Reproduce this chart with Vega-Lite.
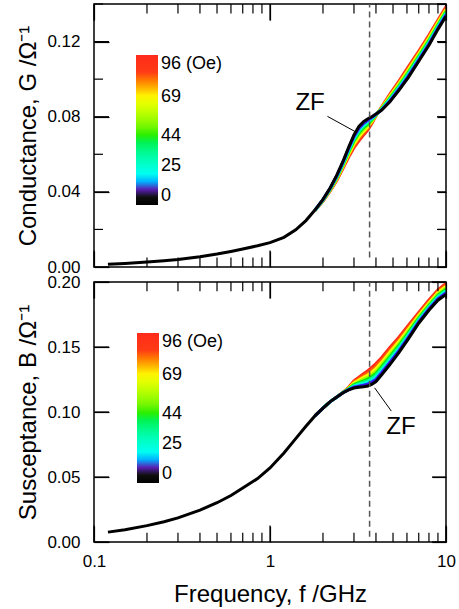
{
  "$schema": "https://vega.github.io/schema/vega-lite/v6.json",
  "padding": {"left": 16, "top": 2, "right": 0, "bottom": 0},
  "background": "white",
  "config": {
    "font": "Liberation Sans",
    "view": {"stroke": "#000", "strokeWidth": 1.5},
    "axis": {"ticks": true, "zindex": 1, "domain": false, "grid": false, "tickColor": "#000000", "tickWidth": 1.2, "labelColor": "#000", "titleColor": "#000", "labelFontSize": 17, "titleFontSize": 24, "titleFontWeight": "normal", "labelFlush": false, "labelOverlap": false, "labelFont": "Liberation Sans", "titleFont": "Liberation Sans"},
    "legend": {"labelFont": "Liberation Sans", "labelColor": "#000", "labelFontSize": 18, "padding": 0}
  },
  "datasets": {
    "curves": [
      {"H":96,"f":1.8,"G":0.0300,"B":0.0970},{"H":96,"f":2.0,"G":0.0350,"B":0.1030},{"H":96,"f":2.2,"G":0.0405,"B":0.1080},{"H":96,"f":2.4,"G":0.0462,"B":0.1117},{"H":96,"f":2.6,"G":0.0525,"B":0.1152},{"H":96,"f":2.8,"G":0.0585,"B":0.1190},{"H":96,"f":3.0,"G":0.0635,"B":0.1240},{"H":96,"f":3.2,"G":0.0672,"B":0.1268},{"H":96,"f":3.4,"G":0.0702,"B":0.1295},{"H":96,"f":3.6,"G":0.0730,"B":0.1318},{"H":96,"f":3.8,"G":0.0765,"B":0.1345},{"H":96,"f":4.0,"G":0.0805,"B":0.1372},{"H":96,"f":4.3,"G":0.0852,"B":0.1418},{"H":96,"f":4.8,"G":0.0920,"B":0.1497},{"H":96,"f":5.4,"G":0.0990,"B":0.1575},{"H":96,"f":6.1,"G":0.1065,"B":0.1666},{"H":96,"f":7.0,"G":0.1150,"B":0.1765},{"H":96,"f":8.0,"G":0.1235,"B":0.1861},{"H":96,"f":9.0,"G":0.1315,"B":0.1940},{"H":96,"f":10,"G":0.1385,"B":0.1990},
      {"H":82,"f":1.8,"G":0.0300,"B":0.0970},{"H":82,"f":2.0,"G":0.0352,"B":0.1030},{"H":82,"f":2.2,"G":0.0408,"B":0.1080},{"H":82,"f":2.4,"G":0.0466,"B":0.1117},{"H":82,"f":2.6,"G":0.0531,"B":0.1151},{"H":82,"f":2.8,"G":0.0593,"B":0.1187},{"H":82,"f":3.0,"G":0.0645,"B":0.1232},{"H":82,"f":3.2,"G":0.0683,"B":0.1256},{"H":82,"f":3.4,"G":0.0713,"B":0.1280},{"H":82,"f":3.6,"G":0.0739,"B":0.1300},{"H":82,"f":3.8,"G":0.0770,"B":0.1325},{"H":82,"f":4.0,"G":0.0806,"B":0.1351},{"H":82,"f":4.3,"G":0.0849,"B":0.1398},{"H":82,"f":4.8,"G":0.0914,"B":0.1477},{"H":82,"f":5.4,"G":0.0983,"B":0.1557},{"H":82,"f":6.1,"G":0.1056,"B":0.1650},{"H":82,"f":7.0,"G":0.1142,"B":0.1753},{"H":82,"f":8.0,"G":0.1227,"B":0.1849},{"H":82,"f":9.0,"G":0.1308,"B":0.1928},{"H":82,"f":10,"G":0.1378,"B":0.1977},
      {"H":69,"f":1.8,"G":0.0301,"B":0.0970},{"H":69,"f":2.0,"G":0.0353,"B":0.1030},{"H":69,"f":2.2,"G":0.0410,"B":0.1080},{"H":69,"f":2.4,"G":0.0470,"B":0.1116},{"H":69,"f":2.6,"G":0.0536,"B":0.1151},{"H":69,"f":2.8,"G":0.0600,"B":0.1184},{"H":69,"f":3.0,"G":0.0654,"B":0.1224},{"H":69,"f":3.2,"G":0.0693,"B":0.1246},{"H":69,"f":3.4,"G":0.0722,"B":0.1267},{"H":69,"f":3.6,"G":0.0747,"B":0.1285},{"H":69,"f":3.8,"G":0.0775,"B":0.1308},{"H":69,"f":4.0,"G":0.0808,"B":0.1333},{"H":69,"f":4.3,"G":0.0847,"B":0.1380},{"H":69,"f":4.8,"G":0.0909,"B":0.1460},{"H":69,"f":5.4,"G":0.0976,"B":0.1542},{"H":69,"f":6.1,"G":0.1049,"B":0.1636},{"H":69,"f":7.0,"G":0.1135,"B":0.1742},{"H":69,"f":8.0,"G":0.1220,"B":0.1839},{"H":69,"f":9.0,"G":0.1301,"B":0.1918},{"H":69,"f":10,"G":0.1371,"B":0.1966},
      {"H":56,"f":1.8,"G":0.0301,"B":0.0970},{"H":56,"f":2.0,"G":0.0354,"B":0.1030},{"H":56,"f":2.2,"G":0.0412,"B":0.1080},{"H":56,"f":2.4,"G":0.0474,"B":0.1116},{"H":56,"f":2.6,"G":0.0541,"B":0.1150},{"H":56,"f":2.8,"G":0.0607,"B":0.1182},{"H":56,"f":3.0,"G":0.0664,"B":0.1216},{"H":56,"f":3.2,"G":0.0704,"B":0.1235},{"H":56,"f":3.4,"G":0.0732,"B":0.1253},{"H":56,"f":3.6,"G":0.0755,"B":0.1268},{"H":56,"f":3.8,"G":0.0780,"B":0.1290},{"H":56,"f":4.0,"G":0.0809,"B":0.1314},{"H":56,"f":4.3,"G":0.0844,"B":0.1362},{"H":56,"f":4.8,"G":0.0903,"B":0.1442},{"H":56,"f":5.4,"G":0.0969,"B":0.1525},{"H":56,"f":6.1,"G":0.1041,"B":0.1621},{"H":56,"f":7.0,"G":0.1127,"B":0.1731},{"H":56,"f":8.0,"G":0.1212,"B":0.1828},{"H":56,"f":9.0,"G":0.1294,"B":0.1906},{"H":56,"f":10,"G":0.1364,"B":0.1954},
      {"H":44,"f":1.8,"G":0.0302,"B":0.0970},{"H":44,"f":2.0,"G":0.0355,"B":0.1030},{"H":44,"f":2.2,"G":0.0414,"B":0.1080},{"H":44,"f":2.4,"G":0.0477,"B":0.1116},{"H":44,"f":2.6,"G":0.0546,"B":0.1150},{"H":44,"f":2.8,"G":0.0614,"B":0.1179},{"H":44,"f":3.0,"G":0.0672,"B":0.1210},{"H":44,"f":3.2,"G":0.0713,"B":0.1226},{"H":44,"f":3.4,"G":0.0741,"B":0.1240},{"H":44,"f":3.6,"G":0.0762,"B":0.1254},{"H":44,"f":3.8,"G":0.0784,"B":0.1274},{"H":44,"f":4.0,"G":0.0810,"B":0.1297},{"H":44,"f":4.3,"G":0.0842,"B":0.1346},{"H":44,"f":4.8,"G":0.0898,"B":0.1426},{"H":44,"f":5.4,"G":0.0963,"B":0.1511},{"H":44,"f":6.1,"G":0.1034,"B":0.1609},{"H":44,"f":7.0,"G":0.1120,"B":0.1721},{"H":44,"f":8.0,"G":0.1205,"B":0.1819},{"H":44,"f":9.0,"G":0.1288,"B":0.1897},{"H":44,"f":10,"G":0.1358,"B":0.1944},
      {"H":35,"f":1.8,"G":0.0302,"B":0.0970},{"H":35,"f":2.0,"G":0.0356,"B":0.1030},{"H":35,"f":2.2,"G":0.0416,"B":0.1080},{"H":35,"f":2.4,"G":0.0480,"B":0.1115},{"H":35,"f":2.6,"G":0.0549,"B":0.1149},{"H":35,"f":2.8,"G":0.0619,"B":0.1177},{"H":35,"f":3.0,"G":0.0679,"B":0.1204},{"H":35,"f":3.2,"G":0.0721,"B":0.1218},{"H":35,"f":3.4,"G":0.0748,"B":0.1230},{"H":35,"f":3.6,"G":0.0768,"B":0.1242},{"H":35,"f":3.8,"G":0.0788,"B":0.1261},{"H":35,"f":4.0,"G":0.0811,"B":0.1284},{"H":35,"f":4.3,"G":0.0840,"B":0.1332},{"H":35,"f":4.8,"G":0.0894,"B":0.1413},{"H":35,"f":5.4,"G":0.0958,"B":0.1499},{"H":35,"f":6.1,"G":0.1029,"B":0.1598},{"H":35,"f":7.0,"G":0.1115,"B":0.1713},{"H":35,"f":8.0,"G":0.1200,"B":0.1811},{"H":35,"f":9.0,"G":0.1283,"B":0.1889},{"H":35,"f":10,"G":0.1353,"B":0.1936},
      {"H":25,"f":1.8,"G":0.0302,"B":0.0970},{"H":25,"f":2.0,"G":0.0357,"B":0.1030},{"H":25,"f":2.2,"G":0.0418,"B":0.1080},{"H":25,"f":2.4,"G":0.0483,"B":0.1115},{"H":25,"f":2.6,"G":0.0553,"B":0.1149},{"H":25,"f":2.8,"G":0.0624,"B":0.1175},{"H":25,"f":3.0,"G":0.0685,"B":0.1199},{"H":25,"f":3.2,"G":0.0728,"B":0.1210},{"H":25,"f":3.4,"G":0.0755,"B":0.1220},{"H":25,"f":3.6,"G":0.0774,"B":0.1231},{"H":25,"f":3.8,"G":0.0792,"B":0.1248},{"H":25,"f":4.0,"G":0.0812,"B":0.1270},{"H":25,"f":4.3,"G":0.0839,"B":0.1319},{"H":25,"f":4.8,"G":0.0890,"B":0.1399},{"H":25,"f":5.4,"G":0.0953,"B":0.1487},{"H":25,"f":6.1,"G":0.1023,"B":0.1588},{"H":25,"f":7.0,"G":0.1109,"B":0.1704},{"H":25,"f":8.0,"G":0.1194,"B":0.1803},{"H":25,"f":9.0,"G":0.1278,"B":0.1881},{"H":25,"f":10,"G":0.1348,"B":0.1927},
      {"H":16,"f":1.8,"G":0.0302,"B":0.0970},{"H":16,"f":2.0,"G":0.0358,"B":0.1030},{"H":16,"f":2.2,"G":0.0419,"B":0.1080},{"H":16,"f":2.4,"G":0.0485,"B":0.1115},{"H":16,"f":2.6,"G":0.0557,"B":0.1149},{"H":16,"f":2.8,"G":0.0629,"B":0.1173},{"H":16,"f":3.0,"G":0.0691,"B":0.1194},{"H":16,"f":3.2,"G":0.0735,"B":0.1203},{"H":16,"f":3.4,"G":0.0762,"B":0.1211},{"H":16,"f":3.6,"G":0.0779,"B":0.1220},{"H":16,"f":3.8,"G":0.0795,"B":0.1236},{"H":16,"f":4.0,"G":0.0812,"B":0.1257},{"H":16,"f":4.3,"G":0.0837,"B":0.1307},{"H":16,"f":4.8,"G":0.0886,"B":0.1387},{"H":16,"f":5.4,"G":0.0949,"B":0.1476},{"H":16,"f":6.1,"G":0.1018,"B":0.1578},{"H":16,"f":7.0,"G":0.1104,"B":0.1697},{"H":16,"f":8.0,"G":0.1189,"B":0.1796},{"H":16,"f":9.0,"G":0.1274,"B":0.1874},{"H":16,"f":10,"G":0.1344,"B":0.1919},
      {"H":11,"f":1.8,"G":0.0303,"B":0.0970},{"H":11,"f":2.0,"G":0.0359,"B":0.1030},{"H":11,"f":2.2,"G":0.0420,"B":0.1080},{"H":11,"f":2.4,"G":0.0487,"B":0.1115},{"H":11,"f":2.6,"G":0.0558,"B":0.1148},{"H":11,"f":2.8,"G":0.0632,"B":0.1172},{"H":11,"f":3.0,"G":0.0695,"B":0.1191},{"H":11,"f":3.2,"G":0.0739,"B":0.1199},{"H":11,"f":3.4,"G":0.0765,"B":0.1206},{"H":11,"f":3.6,"G":0.0782,"B":0.1214},{"H":11,"f":3.8,"G":0.0797,"B":0.1230},{"H":11,"f":4.0,"G":0.0813,"B":0.1251},{"H":11,"f":4.3,"G":0.0836,"B":0.1300},{"H":11,"f":4.8,"G":0.0884,"B":0.1381},{"H":11,"f":5.4,"G":0.0946,"B":0.1470},{"H":11,"f":6.1,"G":0.1015,"B":0.1573},{"H":11,"f":7.0,"G":0.1102,"B":0.1693},{"H":11,"f":8.0,"G":0.1187,"B":0.1792},{"H":11,"f":9.0,"G":0.1271,"B":0.1870},{"H":11,"f":10,"G":0.1341,"B":0.1915},
      {"H":0,"f":0.12,"G":0.0015,"B":0.0076},{"H":0,"f":0.15,"G":0.0019,"B":0.0095},{"H":0,"f":0.2,"G":0.0026,"B":0.0126},{"H":0,"f":0.25,"G":0.0033,"B":0.0156},{"H":0,"f":0.3,"G":0.0040,"B":0.0186},{"H":0,"f":0.4,"G":0.0055,"B":0.0245},{"H":0,"f":0.5,"G":0.0069,"B":0.0302},{"H":0,"f":0.6,"G":0.0083,"B":0.0358},{"H":0,"f":0.7,"G":0.0096,"B":0.0415},{"H":0,"f":0.85,"G":0.0113,"B":0.0488},{"H":0,"f":1.0,"G":0.0130,"B":0.0570},{"H":0,"f":1.2,"G":0.0158,"B":0.0685},{"H":0,"f":1.4,"G":0.0198,"B":0.0795},{"H":0,"f":1.6,"G":0.0247,"B":0.0890},
      {"H":0,"f":1.8,"G":0.0303,"B":0.0970},{"H":0,"f":2.0,"G":0.0360,"B":0.1030},{"H":0,"f":2.2,"G":0.0422,"B":0.1080},{"H":0,"f":2.4,"G":0.0490,"B":0.1115},{"H":0,"f":2.6,"G":0.0563,"B":0.1148},{"H":0,"f":2.8,"G":0.0638,"B":0.1170},{"H":0,"f":3.0,"G":0.0703,"B":0.1184},{"H":0,"f":3.2,"G":0.0748,"B":0.1190},{"H":0,"f":3.4,"G":0.0774,"B":0.1194},{"H":0,"f":3.6,"G":0.0789,"B":0.1200},{"H":0,"f":3.8,"G":0.0801,"B":0.1214},{"H":0,"f":4.0,"G":0.0814,"B":0.1234},{"H":0,"f":4.3,"G":0.0834,"B":0.1284},{"H":0,"f":4.8,"G":0.0879,"B":0.1365},{"H":0,"f":5.4,"G":0.0940,"B":0.1456},{"H":0,"f":6.1,"G":0.1008,"B":0.1560},{"H":0,"f":7.0,"G":0.1095,"B":0.1683},{"H":0,"f":8.0,"G":0.1180,"B":0.1783},{"H":0,"f":9.0,"G":0.1265,"B":0.1860},{"H":0,"f":10,"G":0.1335,"B":0.1905}
    ],
    "dash": [{"f": 3.68, "loG": 0.005, "hiG": 0.14, "loB": 0.004, "hiB": 0.2}],
    "zfTopLine": [{"f1": 2.12, "G1": 0.0802, "f2": 3.03, "G2": 0.0722}],
    "zfTopText": [{"f": 1.69, "G": 0.0875, "label": "ZF"}],
    "zfBotLine": [{"f1": 3.93, "B1": 0.1186, "f2": 4.89, "B2": 0.1007}],
    "zfBotText": [{"f": 5.55, "B": 0.0882, "label": "ZF"}],
    "gx": [
      {"f":0.1,"b0":0,"b1":0.0088,"t0":0.14,"t1":0.1312},{"f":1,"b0":0,"b1":0.0088,"t0":0.14,"t1":0.1312},{"f":10,"b0":0,"b1":0.0088,"t0":0.14,"t1":0.1312},
      {"f":0.2,"b0":0,"b1":0.005,"t0":0.14,"t1":0.135},{"f":0.3,"b0":0,"b1":0.005,"t0":0.14,"t1":0.135},{"f":0.4,"b0":0,"b1":0.005,"t0":0.14,"t1":0.135},{"f":0.5,"b0":0,"b1":0.005,"t0":0.14,"t1":0.135},{"f":0.6,"b0":0,"b1":0.005,"t0":0.14,"t1":0.135},{"f":0.7,"b0":0,"b1":0.005,"t0":0.14,"t1":0.135},{"f":0.8,"b0":0,"b1":0.005,"t0":0.14,"t1":0.135},{"f":0.9,"b0":0,"b1":0.005,"t0":0.14,"t1":0.135},
      {"f":2,"b0":0,"b1":0.005,"t0":0.14,"t1":0.135},{"f":3,"b0":0,"b1":0.005,"t0":0.14,"t1":0.135},{"f":4,"b0":0,"b1":0.005,"t0":0.14,"t1":0.135},{"f":5,"b0":0,"b1":0.005,"t0":0.14,"t1":0.135},{"f":6,"b0":0,"b1":0.005,"t0":0.14,"t1":0.135},{"f":7,"b0":0,"b1":0.005,"t0":0.14,"t1":0.135},{"f":8,"b0":0,"b1":0.005,"t0":0.14,"t1":0.135},{"f":9,"b0":0,"b1":0.005,"t0":0.14,"t1":0.135}
    ],
    "bx": [
      {"f":0.1,"b0":0,"b1":0.0127,"t0":0.2,"t1":0.1873},{"f":1,"b0":0,"b1":0.0127,"t0":0.2,"t1":0.1873},{"f":10,"b0":0,"b1":0.0127,"t0":0.2,"t1":0.1873},
      {"f":0.2,"b0":0,"b1":0.0072,"t0":0.2,"t1":0.1928},{"f":0.3,"b0":0,"b1":0.0072,"t0":0.2,"t1":0.1928},{"f":0.4,"b0":0,"b1":0.0072,"t0":0.2,"t1":0.1928},{"f":0.5,"b0":0,"b1":0.0072,"t0":0.2,"t1":0.1928},{"f":0.6,"b0":0,"b1":0.0072,"t0":0.2,"t1":0.1928},{"f":0.7,"b0":0,"b1":0.0072,"t0":0.2,"t1":0.1928},{"f":0.8,"b0":0,"b1":0.0072,"t0":0.2,"t1":0.1928},{"f":0.9,"b0":0,"b1":0.0072,"t0":0.2,"t1":0.1928},
      {"f":2,"b0":0,"b1":0.0072,"t0":0.2,"t1":0.1928},{"f":3,"b0":0,"b1":0.0072,"t0":0.2,"t1":0.1928},{"f":4,"b0":0,"b1":0.0072,"t0":0.2,"t1":0.1928},{"f":5,"b0":0,"b1":0.0072,"t0":0.2,"t1":0.1928},{"f":6,"b0":0,"b1":0.0072,"t0":0.2,"t1":0.1928},{"f":7,"b0":0,"b1":0.0072,"t0":0.2,"t1":0.1928},{"f":8,"b0":0,"b1":0.0072,"t0":0.2,"t1":0.1928},{"f":9,"b0":0,"b1":0.0072,"t0":0.2,"t1":0.1928}
    ],
    "gy": [
      {"v":0,"l0":0.1,"l1":0.1217,"r0":10,"r1":8.89},{"v":0.04,"l0":0.1,"l1":0.1217,"r0":10,"r1":8.89},{"v":0.08,"l0":0.1,"l1":0.1217,"r0":10,"r1":8.89},{"v":0.12,"l0":0.1,"l1":0.1217,"r0":10,"r1":8.89},
      {"v":0.02,"l0":0.1,"l1":0.1125,"r0":10,"r1":8.89},{"v":0.06,"l0":0.1,"l1":0.1125,"r0":10,"r1":8.89},{"v":0.1,"l0":0.1,"l1":0.1125,"r0":10,"r1":8.89},{"v":0.14,"l0":0.1,"l1":0.1125,"r0":10,"r1":8.89}
    ],
    "by": [
      {"v":0,"l0":0.1,"l1":0.1217,"r0":10,"r1":8.325},{"v":0.05,"l0":0.1,"l1":0.1217,"r0":10,"r1":8.325},{"v":0.1,"l0":0.1,"l1":0.1217,"r0":10,"r1":8.325},{"v":0.15,"l0":0.1,"l1":0.1217,"r0":10,"r1":8.325},{"v":0.2,"l0":0.1,"l1":0.1217,"r0":10,"r1":8.325}
    ]
  },
  "spacing": -4,
  "resolve": {"scale": {"color": "independent"}},
  "vconcat": [
    {
      "width": 352, "height": 263,
      "resolve": {"axis": {"x": "independent", "y": "independent"}},
      "layer": [
        {
          "data": {"name": "curves"},
          "mark": {"type": "line", "strokeWidth": 3, "clip": true},
          "encoding": {
            "x": {"field": "f", "type": "quantitative", "scale": {"type": "log", "domain": [0.1, 10], "nice": false},
                  "axis": {"orient": "bottom", "values": [0.1, 1, 10], "labels": false, "title": null, "offset": -16, "tickSize": 16}},
            "y": {"field": "G", "type": "quantitative", "scale": {"domain": [0, 0.14], "nice": false},
                  "axis": {"orient": "left", "values": [0, 0.04, 0.08, 0.12], "format": ".2f", "title": "Conductance, G /Ω⁻¹", "titlePadding": 6,
                           "offset": -15, "tickSize": 15, "labelPadding": 14}},
            "color": {"field": "H", "type": "quantitative",
                      "scale": {"type": "linear", "domain": [0, 7.5, 9.2, 11.3, 14, 17.5, 25, 44, 58, 69, 77, 84, 96], "range": ["#000000","#141414","#5a2a8a","#1414ff","#0090ff","#00ffff","#00ffd0","#00ee00","#b4ff00","#ffff00","#ff9a00","#ff3c14","#ff2a1a"]},
                      "legend": {"orient": "none", "legendX": 42, "legendY": 51, "direction": "vertical", "gradientLength": 150, "gradientThickness": 22, "title": null, "values": [0,25,44,69,96], "labelExpr": "datum.value == 96 ? '96 (Oe)' : datum.label", "labelOffset": 3, "gradientStrokeWidth": 0, "labelOverlap": false}}
          }
        },
        {
          "data": {"name": "dash"},
          "mark": {"type": "rule", "stroke": "#555", "strokeWidth": 1.5, "strokeDash": [6, 4]},
          "encoding": {
            "x": {"field": "f", "type": "quantitative",
                  "axis": {"orient": "top", "values": [0.1, 1, 10], "labels": false, "title": null, "offset": -16, "tickSize": 16}},
            "y": {"field": "loG", "type": "quantitative",
                  "axis": {"orient": "right", "values": [0,0.02,0.04,0.06,0.08,0.1,0.12,0.14], "labels": false, "title": null, "offset": -9, "tickSize": 9}},
            "y2": {"field": "hiG"}
          }
        },
        {
          "data": {"name": "zfTopLine"},
          "mark": {"type": "rule", "stroke": "#000", "strokeWidth": 1},
          "encoding": {
            "x": {"field": "f1", "type": "quantitative", "axis": null},
            "x2": {"field": "f2"},
            "y": {"field": "G1", "type": "quantitative", "axis": null},
            "y2": {"field": "G2"}
          }
        },
        {
          "data": {"name": "zfTopText"},
          "mark": {"type": "text", "fontSize": 24, "color": "#000", "align": "center", "baseline": "middle"},
          "encoding": {
            "x": {"field": "f", "type": "quantitative", "axis": null},
            "y": {"field": "G", "type": "quantitative", "axis": null},
            "text": {"field": "label"}
          }
        },
        {
          "data": {"name": "gx"},
          "mark": {"type": "rule", "stroke": "#000", "strokeWidth": 1.2},
          "encoding": {
            "x": {"field": "f", "type": "quantitative", "axis": null},
            "y": {"field": "b0", "type": "quantitative", "axis": null},
            "y2": {"field": "b1"}
          }
        },
        {
          "data": {"name": "gx"},
          "mark": {"type": "rule", "stroke": "#000", "strokeWidth": 1.2},
          "encoding": {
            "x": {"field": "f", "type": "quantitative", "axis": null},
            "y": {"field": "t0", "type": "quantitative", "axis": null},
            "y2": {"field": "t1"}
          }
        },
        {
          "data": {"name": "gy"},
          "mark": {"type": "rule", "stroke": "#000", "strokeWidth": 1.2},
          "encoding": {
            "x": {"field": "l0", "type": "quantitative", "axis": null},
            "x2": {"field": "l1"},
            "y": {"field": "v", "type": "quantitative", "axis": null}
          }
        },
        {
          "data": {"name": "gy"},
          "mark": {"type": "rule", "stroke": "#000", "strokeWidth": 1.2},
          "encoding": {
            "x": {"field": "r0", "type": "quantitative", "axis": null},
            "x2": {"field": "r1"},
            "y": {"field": "v", "type": "quantitative", "axis": null}
          }
        }
      ]
    },
    {
      "width": 352, "height": 260,
      "resolve": {"axis": {"x": "independent", "y": "independent"}},
      "layer": [
        {
          "data": {"name": "curves"},
          "mark": {"type": "line", "strokeWidth": 3, "clip": true},
          "encoding": {
            "x": {"field": "f", "type": "quantitative", "scale": {"type": "log", "domain": [0.1, 10], "nice": false},
                  "axis": {"orient": "bottom", "values": [0.1, 1, 10], "title": "Frequency, f /GHz", "titlePadding": 13,
                           "offset": -16, "tickSize": 16, "labelPadding": 11,
                           "labelExpr": "datum.value == 0.1 ? '0.1' : datum.value == 1 ? '1' : datum.value == 10 ? '10' : ''"}},
            "y": {"field": "B", "type": "quantitative", "scale": {"domain": [0, 0.2], "nice": false},
                  "axis": {"orient": "left", "values": [0, 0.05, 0.1, 0.15, 0.2], "format": ".2f", "title": "Susceptance, B /Ω⁻¹", "titlePadding": 6,
                           "offset": -15, "tickSize": 15, "labelPadding": 14}},
            "color": {"field": "H", "type": "quantitative",
                      "scale": {"type": "linear", "domain": [0, 7.5, 9.2, 11.3, 14, 17.5, 25, 44, 58, 69, 77, 84, 96], "range": ["#000000","#141414","#5a2a8a","#1414ff","#0090ff","#00ffff","#00ffd0","#00ee00","#b4ff00","#ffff00","#ff9a00","#ff3c14","#ff2a1a"]},
                      "legend": {"orient": "none", "legendX": 43, "legendY": 51, "direction": "vertical", "gradientLength": 150, "gradientThickness": 22, "title": null, "values": [0,25,44,69,96], "labelExpr": "datum.value == 96 ? '96 (Oe)' : datum.label", "labelOffset": 3, "gradientStrokeWidth": 0, "labelOverlap": false}}
          }
        },
        {
          "data": {"name": "dash"},
          "mark": {"type": "rule", "stroke": "#555", "strokeWidth": 1.5, "strokeDash": [6, 4]},
          "encoding": {
            "x": {"field": "f", "type": "quantitative",
                  "axis": {"orient": "top", "values": [0.1, 1, 10], "labels": false, "title": null, "offset": -16, "tickSize": 16}},
            "y": {"field": "loB", "type": "quantitative",
                  "axis": {"orient": "right", "values": [0, 0.05, 0.1, 0.15, 0.2], "labels": false, "title": null, "offset": -14, "tickSize": 14}},
            "y2": {"field": "hiB"}
          }
        },
        {
          "data": {"name": "zfBotLine"},
          "mark": {"type": "rule", "stroke": "#000", "strokeWidth": 1},
          "encoding": {
            "x": {"field": "f1", "type": "quantitative", "axis": null},
            "x2": {"field": "f2"},
            "y": {"field": "B1", "type": "quantitative", "axis": null},
            "y2": {"field": "B2"}
          }
        },
        {
          "data": {"name": "zfBotText"},
          "mark": {"type": "text", "fontSize": 24, "color": "#000", "align": "center", "baseline": "middle"},
          "encoding": {
            "x": {"field": "f", "type": "quantitative", "axis": null},
            "y": {"field": "B", "type": "quantitative", "axis": null},
            "text": {"field": "label"}
          }
        },
        {
          "data": {"name": "bx"},
          "mark": {"type": "rule", "stroke": "#000", "strokeWidth": 1.2},
          "encoding": {
            "x": {"field": "f", "type": "quantitative", "axis": null},
            "y": {"field": "b0", "type": "quantitative", "axis": null},
            "y2": {"field": "b1"}
          }
        },
        {
          "data": {"name": "bx"},
          "mark": {"type": "rule", "stroke": "#000", "strokeWidth": 1.2},
          "encoding": {
            "x": {"field": "f", "type": "quantitative", "axis": null},
            "y": {"field": "t0", "type": "quantitative", "axis": null},
            "y2": {"field": "t1"}
          }
        },
        {
          "data": {"name": "by"},
          "mark": {"type": "rule", "stroke": "#000", "strokeWidth": 1.2},
          "encoding": {
            "x": {"field": "l0", "type": "quantitative", "axis": null},
            "x2": {"field": "l1"},
            "y": {"field": "v", "type": "quantitative", "axis": null}
          }
        },
        {
          "data": {"name": "by"},
          "mark": {"type": "rule", "stroke": "#000", "strokeWidth": 1.2},
          "encoding": {
            "x": {"field": "r0", "type": "quantitative", "axis": null},
            "x2": {"field": "r1"},
            "y": {"field": "v", "type": "quantitative", "axis": null}
          }
        }
      ]
    }
  ]
}
